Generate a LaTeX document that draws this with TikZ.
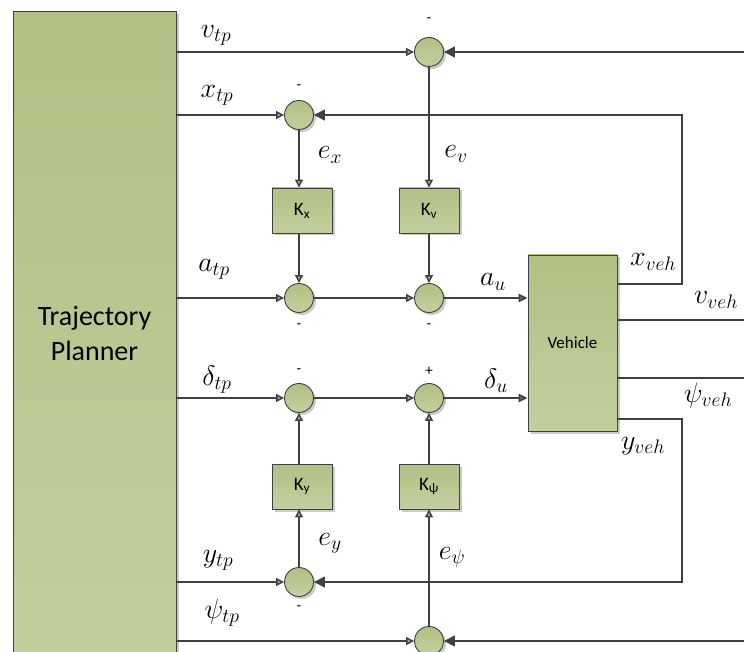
\RequirePackage{fix-cm}
\documentclass[tikz,border=0pt]{standalone}
\usepackage{fontspec}
\setmainfont{Carlito}
\usetikzlibrary{arrows.meta,shadows,calc}
\definecolor{lc}{HTML}{404040}
\definecolor{gtop}{HTML}{B1C084}
\definecolor{gbot}{HTML}{C2CF9E}
\begin{document}
\begin{tikzpicture}[x=1pt,y=-1pt,
  every node/.style={inner sep=0pt},
  wire/.style={draw=lc, line width=1.5pt},
  blk/.style={draw=lc, line width=0.9pt, top color=gtop, bottom color=gbot,
    drop shadow={shadow xshift=2.5pt,shadow yshift=-2.5pt,fill=black!35,opacity=0.6}},
  sum/.style={blk, circle, minimum size=29pt},
  gain/.style={blk, rectangle, minimum width=60pt, minimum height=45pt, font=\fontsize{19}{21}\selectfont},
  lab/.style={font=\fontsize{28}{32}\selectfont},
  sgn/.style={font=\fontsize{15}{17}\selectfont},
  ain/.style={-{Triangle[length=8pt,width=8pt,fill=gray!65]}},
  afb/.style={-{Triangle[length=11pt,width=11pt]}},
  aveh/.style={-{Triangle[length=9pt,width=8.5pt,fill=lc!80]}}]
\useasboundingbox (0,0) rectangle (744,652);
\clip (0,0) rectangle (744,652);
% trajectory planner
\node[blk, minimum width=163pt, minimum height=680pt, anchor=north west] (tp) at (13,11) {};
\node[font=\fontsize{28}{35}\selectfont, align=center] (tptxt) at (94.5,333) {Trajectory\\Planner};
% summing junctions
\node[sum] (sv) at (429,52) {};
\node[sum] (sx) at (299,115) {};
\node[sum] (sa1) at (299,298) {};
\node[sum] (sa2) at (429,298) {};
\node[sum] (sd1) at (299,398) {};
\node[sum] (sd2) at (429,398) {};
\node[sum] (sy) at (299,582) {};
\node[sum] (sp) at (429,641) {};
% gains
\node[gain] (kx) at (302,210.5) {K\textsubscript{x}};
\node[gain] (kv) at (429,210.5) {K\textsubscript{v}};
\node[gain] (ky) at (302,486.5) {K\textsubscript{y}};
\node[gain] (kp) at (429,486.5) {K\textsubscript{ψ}};
% vehicle
\node[blk, minimum width=89pt, minimum height=176pt, font=\fontsize{17}{19}\selectfont] (veh) at (572.5,343) {Vehicle};
% free ends and corners
\coordinate (rv) at (746,52);
\coordinate (rp) at (746,641);
\coordinate (ro1) at (746,320);
\coordinate (ro2) at (746,378);
\coordinate (cx1) at (682,284);
\coordinate (cx2) at (682,115);
\coordinate (cy1) at (682,419);
\coordinate (cy2) at (682,582);
% planner outputs
\draw[wire,ain] (sv -| tp.east) -- (sv.west);
\draw[wire,ain] (sx -| tp.east) -- (sx.west);
\draw[wire,ain] (sa1 -| tp.east) -- (sa1.west);
\draw[wire,ain] (sd1 -| tp.east) -- (sd1.west);
\draw[wire,ain] (sy -| tp.east) -- (sy.west);
\draw[wire,ain] (sp -| tp.east) -- (sp.west);
% error paths
\draw[wire,ain] (sv.south) -- (kv.north);
\draw[wire,ain] (sx.south) -- (sx |- kx.north);
\draw[wire,ain] (sx |- kx.south) -- (sa1.north);
\draw[wire,ain] (kv.south) -- (sa2.north);
\draw[wire,ain] (sy.north) -- (sy |- ky.south);
\draw[wire,ain] (sy |- ky.north) -- (sd1.south);
\draw[wire,ain] (sp.north) -- (kp.south);
\draw[wire,ain] (kp.north) -- (sd2.south);
% chains
\draw[wire,ain] (sa1.east) -- (sa2.west);
\draw[wire,ain] (sd1.east) -- (sd2.west);
\draw[wire,aveh] (sa2.east) -- (sa2 -| veh.west);
\draw[wire,aveh] (sd2.east) -- (sd2 -| veh.west);
% vehicle outputs / feedback
\draw[wire,afb] (cx1 -| veh.east) -- (cx1) -- (cx2) -- (sx.east);
\draw[wire,afb] (cy1 -| veh.east) -- (cy1) -- (cy2) -- (sy.east);
\draw[wire] (ro1 -| veh.east) -- (ro1);
\draw[wire] (ro2 -| veh.east) -- (ro2);
\draw[wire,afb] (rv) -- (sv.east);
\draw[wire,afb] (rp) -- (sp.east);
% labels
\node[lab] (lvtp) at (216,35) {$v_{tp}$};
\node[lab] (lxtp) at (217,95) {$x_{tp}$};
\node[lab] (latp) at (214,269) {$a_{tp}$};
\node[lab] (ldtp) at (217,380) {$\delta_{tp}$};
\node[lab] (lytp) at (218,560) {$y_{tp}$};
\node[lab] (lptp) at (222,613) {$\psi_{tp}$};
\node[lab] (lex) at (330,155) {$e_{x}$};
\node[lab] (lev) at (456,154) {$e_{v}$};
\node[lab] (ley) at (330,543) {$e_{y}$};
\node[lab] (lep) at (452,557) {$e_{\psi}$};
\node[lab] (lau) at (493,282) {$a_{u}$};
\node[lab] (ldu) at (496,381) {$\delta_{u}$};
\node[lab] (lxv) at (653,262) {$x_{veh}$};
\node[lab] (lvv) at (716,300) {$v_{veh}$};
\node[lab] (lpv) at (708,395) {$\psi_{veh}$};
\node[lab] (lyv) at (643,446) {$y_{veh}$};
% signs
\node[sgn] (g1) at (429,20) {-};
\node[sgn] (g2) at (299,87) {-};
\node[sgn] (g3) at (299,326) {-};
\node[sgn] (g4) at (429,326) {-};
\node[sgn] (g5) at (299,371) {-};
\node[sgn] (g6) at (429,371) {+};
\node[sgn] (g7) at (299,608) {-};
\end{tikzpicture}
\end{document}
